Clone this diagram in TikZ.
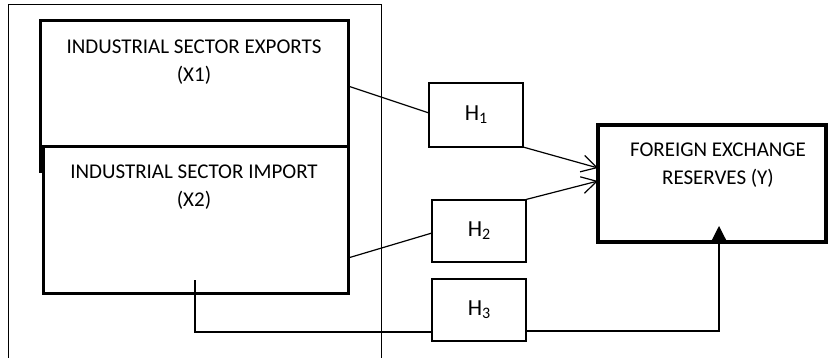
\documentclass[tikz,border=0pt]{standalone}
\usepackage{fontspec}
\setmainfont{Carlito}
\usetikzlibrary{arrows.meta}
% hypothesis label: H with a lowered index
\newcommand{\hyp}[1]{H\raisebox{-3pt}{\fontsize{16}{16}\selectfont #1}}
\begin{document}
\begin{tikzpicture}[x=1pt,y=-1pt,
  every node/.style={outer sep=0pt},
  bigbox/.style={draw, line width=3pt, fill=white, inner sep=0pt},
  hbox/.style={draw, line width=2pt, minimum width=94pt, minimum height=62pt, inner sep=0pt,
    font=\fontsize{23}{27}\selectfont},
  ybox/.style={draw, line width=3.5pt, inner sep=0pt},
  txt/.style={align=center, inner sep=0pt, anchor=north, font=\fontsize{21}{28}\selectfont},
  frame/.style={line width=1pt},
  link/.style={line width=1.2pt},
  open/.style={link, -{Straight Barb[length=15pt,width=17pt,line width=1.2pt]}},
  solid/.style={link, -{Triangle[length=15pt,width=15pt]}}]
\useasboundingbox (0,0) rectangle (829,358);

% outer frame, open at the bottom
\draw[frame] (8,358) -- (8,5) -- (381,5) -- (381,358);

% independent variables
\node[bigbox, minimum width=308pt, minimum height=151pt] (x1) at (194,96.5) {};
\node[bigbox, minimum width=305pt, minimum height=146pt] (x2) at (195.5,220) {};
\node[txt] (x1t) at ([yshift=-19pt]x1.north) {INDUSTRIAL SECTOR EXPORTS\\(X1)};
\node[txt] (x2t) at ([xshift=-1.5pt,yshift=-18pt]x2.north) {INDUSTRIAL SECTOR IMPORT\\(X2)};

% hypotheses
\node[hbox, minimum width=94pt, minimum height=64pt] (h1) at (476,115) {\hyp{1}};
\node[hbox] (h2) at (479,230.5) {\hyp{2}};
\node[hbox] (h3) at (479,310) {\hyp{3}};

% dependent variable
\node[ybox, minimum width=228pt, minimum height=117pt] (y) at (712,183.5) {};
\node[txt] (yt) at ([xshift=6pt,yshift=-18pt]y.north) {FOREIGN EXCHANGE\\RESERVES (Y)};

% paths
\draw[link] ([yshift=10.5pt]x1.east) -- ([yshift=2pt]h1.west);
\draw[open] (h1.south east) -- ([yshift=15.5pt]y.west);
\draw[link] ([yshift=-38pt]x2.east) -- ([yshift=-2.5pt]h2.west);
\draw[open] (h2.north east) -- ([yshift=2.5pt]y.west);
\draw[link] ([xshift=-0.5pt,yshift=13pt]x2.south) |- ([yshift=-22pt]h3.west);
\draw[solid] ([yshift=-21pt]h3.east) -| ([xshift=7pt,yshift=16pt]y.south);
\end{tikzpicture}
\end{document}
